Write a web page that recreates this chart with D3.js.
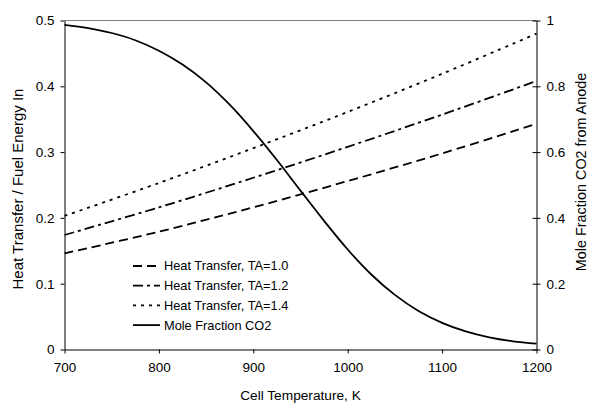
<!DOCTYPE html>
<html>
<head>
<meta charset="utf-8">
<script src="https://cdn.jsdelivr.net/npm/d3@7"></script>
<style>
  body { margin: 0; background: #fff; }
  text { font-family: "Liberation Sans", Arial, sans-serif; fill: #000; }
</style>
</head>
<body>
<div id="chart"></div>
<script>
// Daten
const temps = [700, 800, 900, 1000, 1100, 1200];
const heatTA10 = [0.146, 0.179, 0.216, 0.256, 0.298, 0.343];
const heatTA12 = [0.174, 0.216, 0.261, 0.308, 0.357, 0.408];
const heatTA14 = [0.203, 0.253, 0.306, 0.361, 0.419, 0.480];

const co2Temps = [700, 725, 750, 775, 800, 825, 850, 875, 900, 925, 950, 975, 1000, 1025, 1050, 1075, 1100, 1125, 1150, 1175, 1200];
const co2Frac = [0.987, 0.977, 0.962, 0.94, 0.908, 0.866, 0.812, 0.744, 0.664, 0.576, 0.483, 0.391, 0.304, 0.228, 0.166, 0.117, 0.081, 0.055, 0.037, 0.025, 0.018];

const xTicks = [700, 800, 900, 1000, 1100, 1200];
const yLeftTicks = [0, 0.1, 0.2, 0.3, 0.4, 0.5];
const yRightTicks = [0, 0.2, 0.4, 0.6, 0.8, 1];

const legendLabels = ["Heat Transfer, TA=1.0", "Heat Transfer, TA=1.2", "Heat Transfer, TA=1.4", "Mole Fraction CO2"];
const dashes = ["9,5", "10,4,3,4", "3,5", null];

// Aufbau
const breite = 589, hoehe = 410;
const links = 64.5, rechts = 536.5, oben = 20.5, unten = 349.5;

const svg = d3.select("#chart").append("svg")
  .attr("width", breite)
  .attr("height", hoehe);

const xScale = d3.scaleLinear().domain([700, 1200]).range([links, rechts]);
const yLeft = d3.scaleLinear().domain([0, 0.5]).range([unten, oben]);
const yRight = d3.scaleLinear().domain([0, 1]).range([unten, oben]);

// Rahmen oben (grau)
svg.append("line")
  .attr("x1", links).attr("x2", rechts)
  .attr("y1", oben).attr("y2", oben)
  .style("stroke", "#808080").style("stroke-width", 1);

// Achsen
const xAxisG = svg.append("g")
  .attr("transform", `translate(0,${unten})`)
  .call(d3.axisBottom(xScale).tickValues(xTicks).tickSize(4).tickSizeOuter(0).tickPadding(6).tickFormat(d3.format("d")));

const yLeftG = svg.append("g")
  .attr("transform", `translate(${links},0)`)
  .call(d3.axisLeft(yLeft).tickValues(yLeftTicks).tickSize(4).tickSizeOuter(0).tickPadding(6).tickFormat(d3.format("~g")));

const yRightG = svg.append("g")
  .attr("transform", `translate(${rechts},0)`)
  .call(d3.axisRight(yRight).tickValues(yRightTicks).tickSize(4).tickSizeOuter(0).tickPadding(6).tickFormat(d3.format("~g")));

// rechte Ticks gehen durch die Achse
yRightG.selectAll(".tick line").attr("x1", -4);

[xAxisG, yLeftG, yRightG].forEach(g => {
  g.selectAll("text").style("font-size", "13.5px").style("font-family", "Liberation Sans, Arial, sans-serif");
  g.selectAll("line, path").style("stroke", "#000").style("stroke-width", 1);
});
xAxisG.selectAll("text").attr("dy", "0.9em");

// Achsentitel
svg.append("text")
  .attr("x", (links + rechts) / 2).attr("y", 400)
  .attr("text-anchor", "middle")
  .style("font-size", "13.7px")
  .text("Cell Temperature, K");

svg.append("text")
  .attr("transform", `translate(23,${(oben + unten) / 2 + 4}) rotate(-90)`)
  .attr("text-anchor", "middle")
  .style("font-size", "15px")
  .text("Heat Transfer / Fuel Energy In");

svg.append("text")
  .attr("transform", `translate(586,172) rotate(-90)`)
  .attr("text-anchor", "middle")
  .style("font-size", "14.4px")
  .text("Mole Fraction CO2 from Anode");

// Linien
const heatSeries = [heatTA10, heatTA12, heatTA14];
const heatLine = d3.line()
  .x((d, i) => xScale(temps[i]))
  .y(d => yLeft(d))
  .curve(d3.curveCatmullRom);

heatSeries.forEach((serie, i) => {
  svg.append("path")
    .datum(serie)
    .attr("d", heatLine)
    .style("fill", "none")
    .style("stroke", "#000")
    .style("stroke-width", 1.8)
    .style("stroke-dasharray", dashes[i]);
});

const co2Line = d3.line()
  .x((d, i) => xScale(co2Temps[i]))
  .y(d => yRight(d))
  .curve(d3.curveCatmullRom);

svg.append("path")
  .datum(co2Frac)
  .attr("d", co2Line)
  .style("fill", "none")
  .style("stroke", "#000")
  .style("stroke-width", 1.8);

// Legende
const legende = svg.append("g").attr("transform", "translate(133,266)");
legendLabels.forEach((label, i) => {
  const zeile = legende.append("g").attr("transform", `translate(0,${i * 19.7})`);
  zeile.append("line")
    .attr("x1", 0).attr("x2", 27)
    .attr("y1", 0).attr("y2", 0)
    .style("stroke", "#000")
    .style("stroke-width", 1.8)
    .style("stroke-dasharray", dashes[i]);
  zeile.append("text")
    .attr("x", 31).attr("y", 0).attr("dy", "0.35em")
    .style("font-size", "12.8px")
    .text(label);
});
</script>
</body>
</html>
